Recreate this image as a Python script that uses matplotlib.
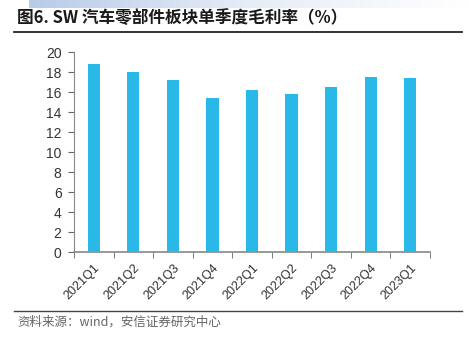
import matplotlib
matplotlib.use("Agg")
import matplotlib.pyplot as plt
import numpy as np
from matplotlib.colors import LinearSegmentedColormap

plt.rcParams['font.family'] = ['Liberation Sans', 'Noto Sans CJK SC', 'DejaVu Sans']

categories = ["2021Q1", "2021Q2", "2021Q3", "2021Q4", "2022Q1", "2022Q2", "2022Q3", "2022Q4", "2023Q1"]
values = [18.85, 18.0, 17.2, 15.4, 16.2, 15.85, 16.5, 17.55, 17.4]
yticks = [0, 2, 4, 6, 8, 10, 12, 14, 16, 18, 20]

W, H = 469, 337
fig = plt.figure(figsize=(W / 100, H / 100), dpi=100)

# top gradient band
grad_ax = fig.add_axes([29 / W, 1 - 8 / H, 1 - 29 / W, 8 / H])
grad = np.linspace(0, 1, 256).reshape(1, -1)
cmap = LinearSegmentedColormap.from_list("g", ["#b8cbe8", "#e6edf7", "#ffffff"])
grad_ax.imshow(grad, aspect="auto", cmap=cmap, extent=[0, 1, 0, 1])
grad_ax.axis("off")

# title
fig.text(17 / W, 1 - 18 / H, "图6. SW 汽车零部件板块单季度毛利率（%）", fontsize=12, fontweight="bold",
         color="#1a1a1a", va="center", ha="left", family=['Noto Sans CJK SC', 'DejaVu Sans'])
fig.add_artist(plt.Line2D([14 / W, 462 / W], [1 - 32 / H, 1 - 32 / H], color="#222222", lw=1.3))

# bottom line and source
fig.add_artist(plt.Line2D([14 / W, 462 / W], [1 - 311 / H, 1 - 311 / H], color="#444444", lw=1.0))
fig.text(17 / W, 1 - 322 / H, "资料来源：wind，安信证券研究中心", fontsize=9, style="italic",
         color="#666666", va="center", ha="left", family=['Noto Sans CJK SC', 'DejaVu Sans'])

ax = fig.add_axes([74 / W, 1 - 252 / H, (430 - 74) / W, 200 / H])
x = np.arange(len(categories))
ax.bar(x, values, width=0.31, color="#29b8e8", zorder=3)
ax.set_xlim(-0.5, len(categories) - 0.5)
ax.set_ylim(0, 20)
ax.set_yticks(yticks)
ax.set_yticklabels([str(t) for t in yticks], fontsize=10, color="#333333")
ax.set_xticks(x)
ax.set_xticklabels(categories, rotation=45, ha="right", rotation_mode="anchor", fontsize=9, color="#333333")
ax.tick_params(axis="x", length=0, pad=7)
ax.set_xticks(np.arange(-0.5, len(categories) + 0.5, 1), minor=True)
ax.tick_params(axis="x", which="minor", length=4, direction="out", color="#666666")
ax.tick_params(axis="y", length=4, direction="out", color="#666666", pad=5)
for s in ["top", "right"]:
    ax.spines[s].set_visible(False)
ax.spines["left"].set_color("#888888")
ax.spines["bottom"].set_color("#888888")
ax.spines["bottom"].set_linewidth(1.2)

fig.savefig("out.png", dpi=100)
